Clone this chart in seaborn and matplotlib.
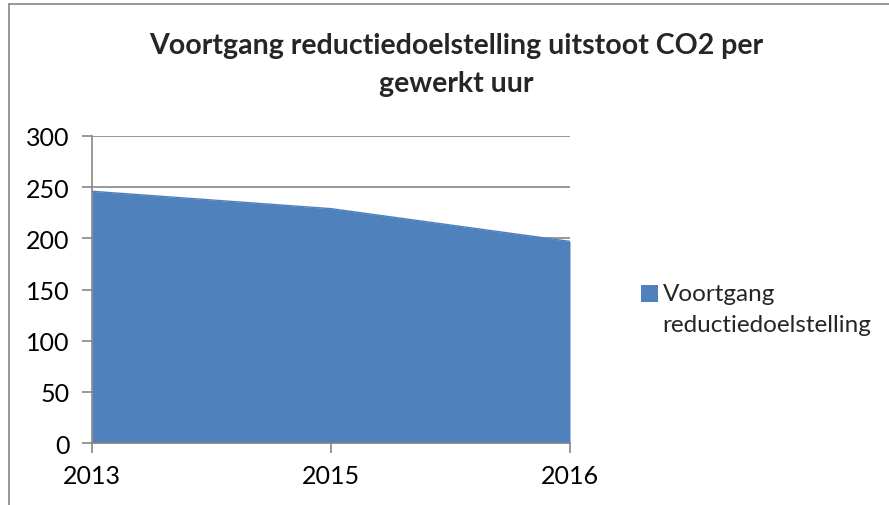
import seaborn as sns
import matplotlib.pyplot as plt
import matplotlib.patches as mpatches
from matplotlib.legend_handler import HandlerPatch
from matplotlib.lines import Line2D
import numpy as np

# data
jaren = ['2013', '2015', '2016']
uitstoot = [246, 229, 197]
y_ticks = [0, 50, 100, 150, 200, 250, 300]

sns.set_theme(style="white")
plt.rcParams['font.family'] = ['Lato', 'DejaVu Sans']

blauw = '#4F81BD'
grijs = '#868686'


def vierkant_bovenaan(legend, orig_handle, xdescent, ydescent, width, height, fontsize):
    # legend square next to the first text line, like in Excel
    return mpatches.Rectangle((-xdescent, -ydescent + 11.5), width, height)


fig = plt.figure(figsize=(8.89, 5.06), dpi=100)
ax = fig.add_axes([92 / 889, 1 - 444 / 506, (570 - 92) / 889, (444 - 137) / 506])

x = np.arange(len(jaren))
ax.fill_between(x, 0, uitstoot, color=blauw, linewidth=0, zorder=2)
sns.lineplot(x=x, y=uitstoot, color=blauw, linewidth=1, ax=ax, zorder=3)

ax.set_xlim(0, len(jaren) - 1)
ax.set_ylim(0, 300)
ax.set_xticks(x)
ax.set_xticklabels(jaren)
ax.set_yticks(y_ticks)
ax.yaxis.grid(True, color=grijs, linewidth=1.2, zorder=0)
ax.set_axisbelow(True)

for side in ['top', 'right']:
    ax.spines[side].set_visible(False)
for side in ['left', 'bottom']:
    ax.spines[side].set_color(grijs)
    ax.spines[side].set_linewidth(1.2)
ax.tick_params(axis='both', which='major', length=7, width=1.2, color=grijs,
               labelsize=18, labelcolor='black', direction='out')
ax.tick_params(axis='x', pad=8, bottom=True)
ax.tick_params(axis='y', pad=9, left=True)

fig.suptitle('Voortgang reductiedoelstelling uitstoot CO2 per\ngewerkt uur',
             x=456 / 889, y=1 - 33 / 506, fontsize=20.5, fontweight='bold',
             linespacing=1.55, va='top')

vlak = mpatches.Patch(color=blauw, linewidth=0)
leg = ax.legend([vlak], ['Voortgang\nreductiedoelstelling'],
                handler_map={mpatches.Patch: HandlerPatch(patch_func=vierkant_bovenaan)},
                loc='center left', bbox_to_anchor=(631 / 889, 1 - 310 / 506),
                bbox_transform=fig.transFigure, frameon=False, fontsize=17.5,
                handlelength=0.7, handleheight=0.7, handletextpad=0.2,
                borderaxespad=0, labelspacing=0)
leg.get_texts()[0].set_linespacing(1.6)

# chart border (cropped at right and bottom in the reference)
fig.add_artist(Line2D([8.5 / 889, 1], [1 - 4.5 / 506, 1 - 4.5 / 506],
                      color=grijs, linewidth=1.2, transform=fig.transFigure))
fig.add_artist(Line2D([8.5 / 889, 8.5 / 889], [0, 1 - 4.5 / 506],
                      color=grijs, linewidth=1.2, transform=fig.transFigure))

plt.savefig('out.png', dpi=100)
